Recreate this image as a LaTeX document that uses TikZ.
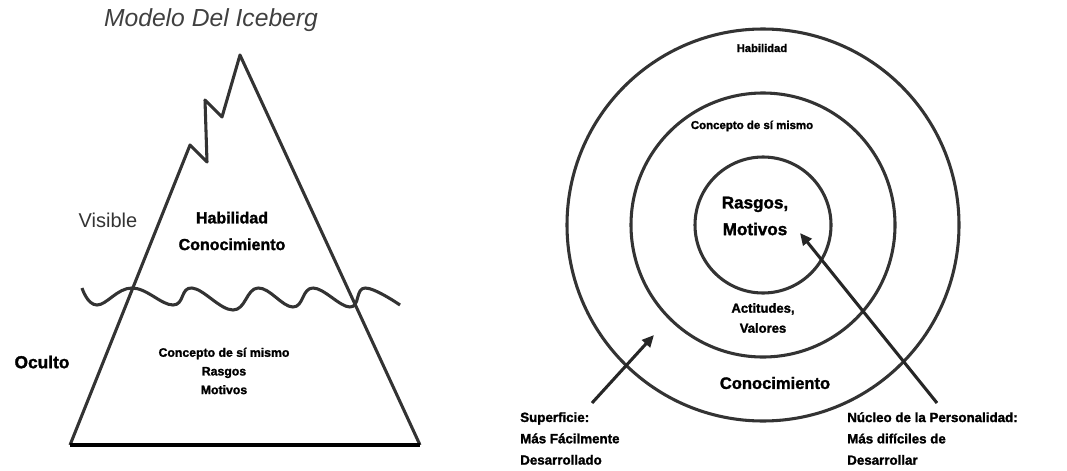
\documentclass[tikz,border=0pt]{standalone}
\usepackage{fontspec}
\setmainfont{Liberation Sans}[BoldFeatures={FakeBold=1.6}]
\usetikzlibrary{arrows.meta}
\begin{document}
\begin{tikzpicture}[x=0.75pt,y=-0.75pt,
  edge/.style={draw=black!80, line width=2.3pt, line join=round},
  lbl/.style={font=\bfseries, align=center, inner sep=0pt},
  pointer/.style={draw=black!85, line width=2.3pt, -{Triangle[length=9pt,width=8pt]}}]
\useasboundingbox (0,0) rectangle (1067,471);
% iceberg
\node[font=\itshape\fontsize{18.5}{20}\selectfont, text=black!75] (title) at (211,20) {Modelo Del Iceberg};
\draw[edge] (70,445) -- (190,145) -- (207,162) -- (205,100) -- (222,117) -- (240,55) -- (420,445);
\draw[draw=black, line width=2.5pt] (70,445) -- (420,445);
\draw[edge] plot[smooth, tension=0.7] coordinates {(82,288) (97,305) (132,288) (173,305) (192,288) (233,310) (258,288) (293,307) (313,288) (350,307) (365,288) (400,305)};
\node[font=\fontsize{15}{18}\selectfont, inner sep=0pt, text=black!80] (visible) at (108,220) {Visible};
\node[lbl, font=\bfseries\fontsize{13}{16}\selectfont] (oculto) at (42,362) {Oculto};
\node[lbl, font=\bfseries\fontsize{12}{20}\selectfont] (above) at (232,231) {Habilidad\\Conocimiento};
\node[lbl, font=\bfseries\fontsize{9.2}{14}\selectfont] (below) at (224,371) {Concepto de sí mismo\\Rasgos\\Motivos};
% circles
\coordinate (c) at (763,225);
\draw[edge] (c) circle[radius=196];
\draw[edge] (c) circle[radius=132];
\draw[edge] (c) circle[radius=68];
\node[lbl, font=\bfseries\fontsize{8.4}{10}\selectfont] (hab) at (762,48) {Habilidad};
\node[lbl, font=\bfseries\fontsize{8.6}{10}\selectfont] (self) at (752,126) {Concepto de sí mismo};
\node[lbl, font=\bfseries\fontsize{12.8}{20}\selectfont] (core) at (755,216) {Rasgos,\\Motivos};
\node[lbl, font=\bfseries\fontsize{9.8}{15}\selectfont] (val) at (763,318) {Actitudes,\\Valores};
\node[lbl, font=\bfseries\fontsize{12.4}{15}\selectfont] (know) at (775,383) {Conocimiento};
\node[lbl, align=left, anchor=north west, font=\bfseries\fontsize{10}{16}\selectfont] (surf) at (520,412) {Superficie:\\Más Fácilmente\\Desarrollado};
\node[lbl, align=left, anchor=north west, font=\bfseries\fontsize{10}{16}\selectfont] (nucleus) at (847,412) {Núcleo de la Personalidad:\\Más difíciles de\\Desarrollar};
\coordinate (s1) at (592,403);
\coordinate (s2) at (654,335);
\coordinate (n1) at (937,403);
\coordinate (n2) at (800,233);
\draw[pointer] (s1) -- (s2);
\draw[pointer] (n1) -- (n2);
\end{tikzpicture}
\end{document}
